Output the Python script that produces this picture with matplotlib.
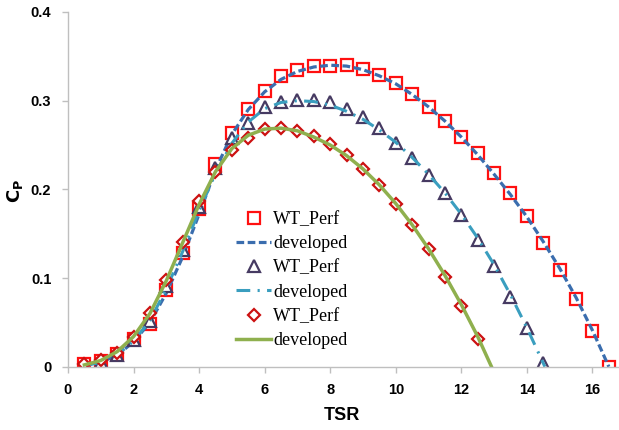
import matplotlib
matplotlib.use("Agg")
import matplotlib.pyplot as plt

# ---- data ----
tsr_sq = [0.5, 1, 1.5, 2, 2.5, 3, 3.5, 4, 4.5, 5, 5.5, 6, 6.5, 7, 7.5, 8, 8.5, 9, 9.5, 10,
          10.5, 11, 11.5, 12, 12.5, 13, 13.5, 14, 14.5, 15, 15.5, 16, 16.5]
cp_sq = [0.003, 0.006, 0.014, 0.031, 0.048, 0.087, 0.128, 0.178, 0.229, 0.264, 0.291, 0.311,
         0.328, 0.335, 0.339, 0.339, 0.340, 0.336, 0.329, 0.320, 0.307, 0.293, 0.277, 0.259,
         0.241, 0.219, 0.196, 0.170, 0.140, 0.109, 0.076, 0.040, 0.0]

dev1_x = [0.5, 1, 1.5, 2, 2.5, 3, 3.5, 4, 4.5, 5, 5.5, 6, 6.5, 7, 7.5, 8, 8.5, 9, 9.5, 10,
          10.5, 11, 11.5, 12, 12.5, 13, 13.5, 14, 14.5, 15, 15.5, 16, 16.5]
dev1_y = [0.002, 0.005, 0.013, 0.028, 0.050, 0.083, 0.124, 0.172, 0.222, 0.262, 0.290, 0.310,
          0.324, 0.333, 0.338, 0.340, 0.339, 0.335, 0.328, 0.319, 0.307, 0.293, 0.277, 0.259,
          0.239, 0.217, 0.194, 0.169, 0.141, 0.111, 0.078, 0.041, 0.0]

tsr_tri = [0.5, 1, 1.5, 2, 2.5, 3, 3.5, 4, 4.5, 5, 5.5, 6, 6.5, 7, 7.5, 8, 8.5, 9, 9.5, 10,
           10.5, 11, 11.5, 12, 12.5, 13, 13.5, 14, 14.5]
cp_tri = [0.001, 0.005, 0.013, 0.030, 0.052, 0.091, 0.132, 0.180, 0.224, 0.258, 0.275, 0.293,
          0.299, 0.301, 0.301, 0.298, 0.291, 0.282, 0.269, 0.252, 0.235, 0.216, 0.1955, 0.171,
          0.143, 0.113, 0.079, 0.044, 0.004]

dev2_x = [0.5, 1, 1.5, 2, 2.5, 3, 3.5, 4, 4.5, 5, 5.5, 6, 6.5, 7, 7.5, 8, 8.5, 9, 9.5, 10,
          10.5, 11, 11.5, 12, 12.5, 13, 13.5, 14, 14.55]
dev2_y = [0.001, 0.005, 0.013, 0.029, 0.052, 0.088, 0.130, 0.176, 0.218, 0.252, 0.276, 0.291,
          0.298, 0.300, 0.299, 0.295, 0.288, 0.279, 0.267, 0.253, 0.236, 0.217, 0.196, 0.172,
          0.145, 0.115, 0.081, 0.044, 0.0]

tsr_dia = [0.5, 1, 1.5, 2, 2.5, 3, 3.5, 4, 4.5, 5, 5.5, 6, 6.5, 7, 7.5, 8, 8.5, 9, 9.5, 10,
           10.5, 11, 11.5, 12, 12.5]
cp_dia = [0.003, 0.007, 0.016, 0.033, 0.061, 0.098, 0.141, 0.187, 0.220, 0.244, 0.258, 0.268,
          0.269, 0.266, 0.260, 0.251, 0.239, 0.2225, 0.205, 0.183, 0.160, 0.133, 0.1015, 0.068,
          0.031]

dev3_x = [0.5, 1, 1.5, 2, 2.5, 3, 3.5, 4, 4.5, 5, 5.5, 6, 6.5, 7, 7.5, 8, 8.5, 9, 9.5, 10,
          10.5, 11, 11.5, 12, 12.5, 12.92]
dev3_y = [0.002, 0.007, 0.017, 0.034, 0.060, 0.097, 0.140, 0.183, 0.220, 0.246, 0.261, 0.268,
          0.269, 0.266, 0.259, 0.250, 0.238, 0.223, 0.205, 0.184, 0.160, 0.133, 0.103, 0.070,
          0.034, 0.0]

x_ticks = [0, 2, 4, 6, 8, 10, 12, 14, 16]
y_ticks = [0, 0.1, 0.2, 0.3, 0.4]
y_ticklabels = ["0", "0.1", "0.2", "0.3", "0.4"]
labels = ["WT_Perf", "developed", "WT_Perf", "developed", "WT_Perf", "developed"]

# ---- figure ----
fig = plt.figure(figsize=(6.19, 4.30), dpi=100)
ax = fig.add_axes([68 / 619, (430 - 366.7) / 430, (618 - 68) / 619, (366.7 - 12) / 430])

ax.plot(tsr_sq, cp_sq, ls="none", marker="s", ms=9.2, mfc="white", mec="#FF1010",
        mew=1.6, label=labels[0])
ax.plot(dev1_x, dev1_y, ls=(0, (2.4, 1.1)), color="#3A6DAE", lw=2.3, label=labels[1])
ax.plot(tsr_tri, cp_tri, ls="none", marker="^", ms=8.8, mfc="white", mec="#463A62",
        mew=1.6, label=labels[2])
ax.plot(dev2_x, dev2_y, ls=(0, (4.5, 2.4, 0.7, 2.4)), color="#3A9EBF", lw=2.2, label=labels[3])
ax.plot(tsr_dia, cp_dia, ls="none", marker="D", ms=6.6, mfc="white", mec="#CC1111",
        mew=1.6, label=labels[4])
ax.plot(dev3_x, dev3_y, ls="-", color="#8FB04E", lw=2.5, label=labels[5])

ax.set_xlim(0, 16.78)
ax.set_ylim(0, 0.4)
ax.set_xticks(x_ticks)
ax.set_yticks(y_ticks)
ax.set_yticklabels(y_ticklabels)

for s in ["top", "right"]:
    ax.spines[s].set_visible(False)
for s in ["left", "bottom"]:
    ax.spines[s].set_color("#BFBFBF")
    ax.spines[s].set_linewidth(1.0)
ax.tick_params(axis="both", direction="out", length=4, width=1.0, color="#BFBFBF",
               labelsize=10.5, pad=8)
for lab in ax.get_xticklabels() + ax.get_yticklabels():
    lab.set_fontweight("bold")
    lab.set_family("Liberation Sans")

fig.text(342 / 619, 1 - 415 / 430, "TSR", ha="center", va="center",
         fontsize=13, fontweight="bold", family="Liberation Sans")
fig.text(15 / 619, 1 - 191 / 430, r"$\mathbf{C_P}$", ha="center", va="center",
         rotation=90, fontsize=13)

leg = ax.legend(loc="upper left", bbox_to_anchor=(236 / 619, 1 - 211 / 430),
                bbox_transform=fig.transFigure, frameon=False, borderpad=0,
                borderaxespad=0, handlelength=1.95, handletextpad=0.1,
                labelspacing=0.40, prop={"family": "Liberation Serif", "size": 13})

fig.savefig("out.png", dpi=100)
